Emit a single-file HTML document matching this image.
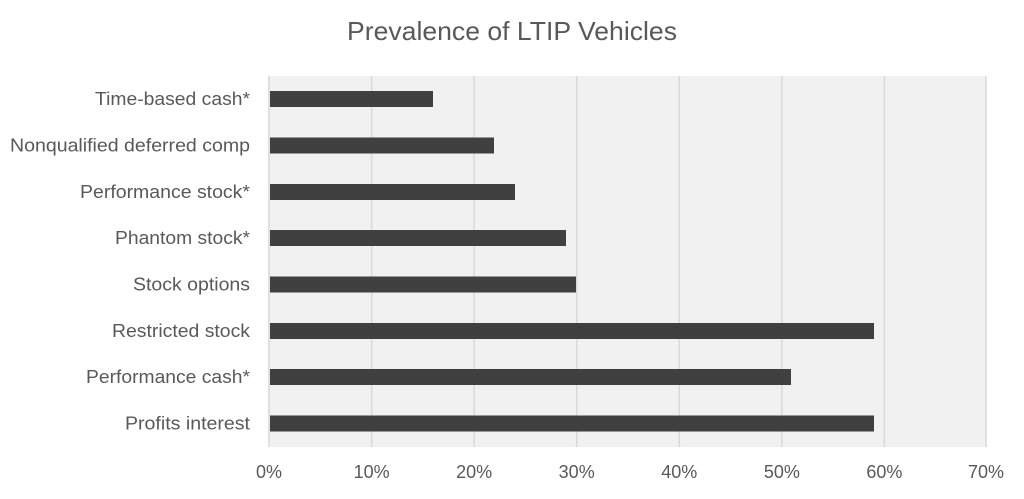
<!DOCTYPE html>
<html><head><style>
body{margin:0;background:#fff;}
</style></head><body>
<svg width="1024" height="494" xmlns="http://www.w3.org/2000/svg" font-family="Liberation Sans, sans-serif">
<rect width="1024" height="494" fill="#fff"/>
<text x="512" y="40" text-anchor="middle" font-size="26" fill="#595959" textLength="330" lengthAdjust="spacingAndGlyphs">Prevalence of LTIP Vehicles</text>
<rect x="268" y="76" width="718" height="371" fill="#f1f1f1"/>
<g stroke="#d9d9d9" stroke-width="1.5">
<line x1="269" y1="76" x2="269" y2="447"/>
<line x1="371.6" y1="76" x2="371.6" y2="447"/>
<line x1="474.1" y1="76" x2="474.1" y2="447"/>
<line x1="576.7" y1="76" x2="576.7" y2="447"/>
<line x1="679.3" y1="76" x2="679.3" y2="447"/>
<line x1="781.9" y1="76" x2="781.9" y2="447"/>
<line x1="884.4" y1="76" x2="884.4" y2="447"/>
<line x1="986" y1="76" x2="986" y2="447"/>
</g>
<g fill="#404040">
<rect x="270" y="91" width="163" height="16"/>
<rect x="270" y="137.5" width="224" height="16"/>
<rect x="270" y="184" width="245" height="16"/>
<rect x="270" y="230" width="296" height="16"/>
<rect x="270" y="276.5" width="306" height="16"/>
<rect x="270" y="323" width="604" height="16"/>
<rect x="270" y="369" width="521" height="16"/>
<rect x="270" y="415.5" width="604" height="16"/>
</g>
<g font-size="18" fill="#595959" text-anchor="end" lengthAdjust="spacingAndGlyphs">
<text x="250" y="105" textLength="155" lengthAdjust="spacingAndGlyphs">Time-based cash*</text>
<text x="250" y="151.5" textLength="240" lengthAdjust="spacingAndGlyphs">Nonqualified deferred comp</text>
<text x="250" y="198" textLength="170" lengthAdjust="spacingAndGlyphs">Performance stock*</text>
<text x="250" y="244" textLength="135" lengthAdjust="spacingAndGlyphs">Phantom stock*</text>
<text x="250" y="290.5" textLength="117" lengthAdjust="spacingAndGlyphs">Stock options</text>
<text x="250" y="337" textLength="138" lengthAdjust="spacingAndGlyphs">Restricted stock</text>
<text x="250" y="383" textLength="164" lengthAdjust="spacingAndGlyphs">Performance cash*</text>
<text x="250" y="429.5" textLength="125" lengthAdjust="spacingAndGlyphs">Profits interest</text>
</g>
<g font-size="18" fill="#595959" text-anchor="middle">
<text x="269" y="478">0%</text>
<text x="371.6" y="478">10%</text>
<text x="474.1" y="478">20%</text>
<text x="576.7" y="478">30%</text>
<text x="679.3" y="478">40%</text>
<text x="781.9" y="478">50%</text>
<text x="884.4" y="478">60%</text>
<text x="986" y="478">70%</text>
</g>
</svg>
</body></html>
